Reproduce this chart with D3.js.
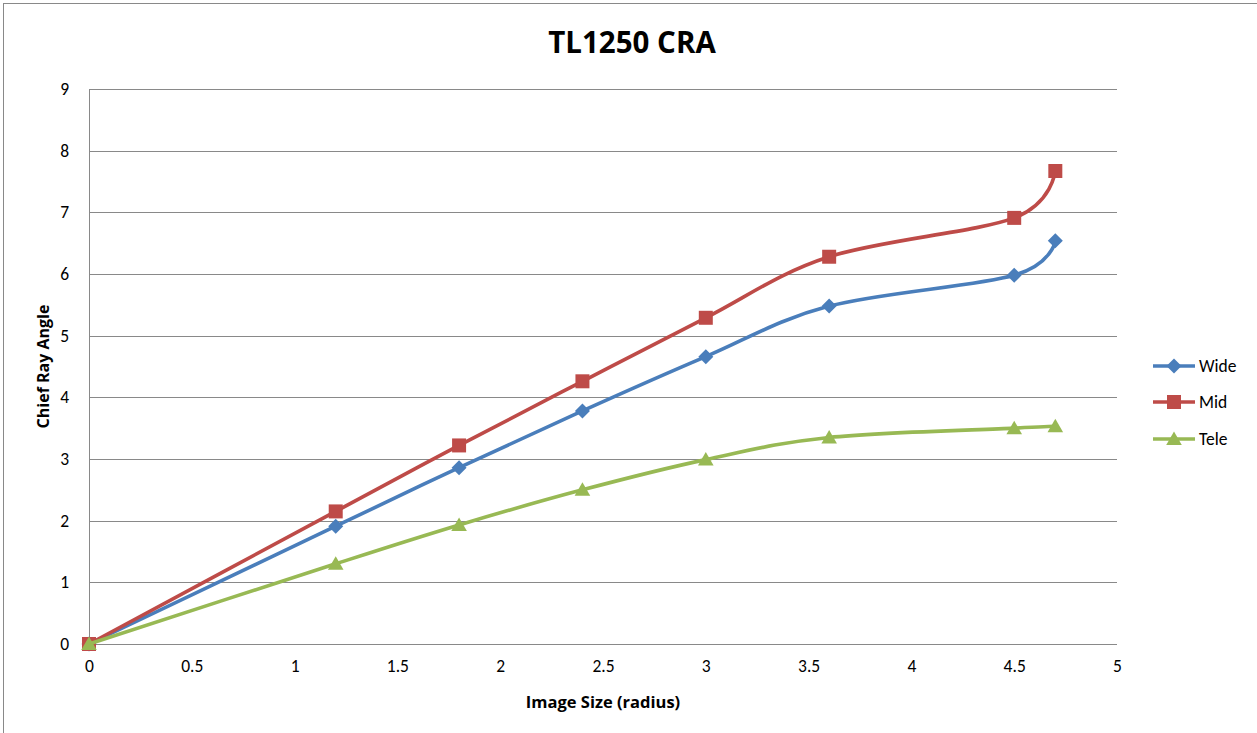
<!DOCTYPE html>
<html>
<head>
<meta charset="utf-8">
<script src="https://cdn.jsdelivr.net/npm/d3@7"></script>
<style>
  html, body { margin: 0; padding: 0; background: #fff; }
  svg { display: block; font-family: Carlito, Calibri, Lato, "Open Sans", sans-serif; }
  .heading { font-family: "Open Sans", Lato, sans-serif; font-weight: bold; }
</style>
</head>
<body>
<svg id="chart" width="1257" height="733"></svg>
<script>
// Image size (radius) sample points
const imageSize = [0, 1.2, 1.8, 2.4, 3.0, 3.6, 4.5, 4.7];

// Chief ray angle per zoom position
const wide = [0, 1.91, 2.86, 3.78, 4.66, 5.48, 5.98, 6.54];
const mid  = [0, 2.15, 3.22, 4.26, 5.29, 6.28, 6.91, 7.67];
const tele = [0, 1.30, 1.93, 2.50, 2.99, 3.35, 3.50, 3.53];

const seriesNames = ["Wide", "Mid", "Tele"];
const seriesValues = [wide, mid, tele];
const seriesColors = ["#4A7EBB", "#BE4B48", "#98B954"];
const seriesMarkers = ["diamond", "square", "triangle"];

const xTicks = [0, 0.5, 1, 1.5, 2, 2.5, 3, 3.5, 4, 4.5, 5];
const yTicks = [0, 1, 2, 3, 4, 5, 6, 7, 8, 9];

const W = 1257, H = 733;
const margin = { top: 89, right: 140, bottom: 89, left: 89 };
const svg = d3.select("#chart");

// chart area border (only top/left edges fall inside the view)
svg.append("rect")
  .attr("x", 3.5).attr("y", 3.5)
  .attr("width", W + 20).attr("height", H + 20)
  .attr("fill", "#fff")
  .attr("stroke", "#898989").attr("stroke-width", 1);

const x = d3.scaleLinear().domain([0, 5]).range([margin.left, W - margin.right]);
const y = d3.scaleLinear().domain([0, 9]).range([H - margin.bottom, margin.top]);

// horizontal gridlines
svg.append("g")
  .selectAll("line")
  .data(yTicks)
  .join("line")
  .attr("x1", x(0)).attr("x2", x(5))
  .attr("y1", d => Math.round(y(d)) + 0.5)
  .attr("y2", d => Math.round(y(d)) + 0.5)
  .attr("stroke", "#898989").attr("stroke-width", 1);

// vertical axis line
svg.append("line")
  .attr("x1", Math.round(x(0)) + 0.5).attr("x2", Math.round(x(0)) + 0.5)
  .attr("y1", y(9)).attr("y2", y(0))
  .attr("stroke", "#898989").attr("stroke-width", 1);

// y axis labels
const yAxis = d3.axisLeft(y).tickValues(yTicks).tickSize(0).tickPadding(20).tickFormat(d3.format("d"));
const gy = svg.append("g").attr("transform", `translate(${x(0)},0)`).call(yAxis);
gy.select(".domain").remove();
gy.selectAll("text").attr("font-size", 17.5).attr("fill", "#000")
  .attr("font-family", "Carlito, Calibri, Lato, sans-serif");

// x axis labels
const xAxis = d3.axisBottom(x).tickValues(xTicks).tickSize(0).tickPadding(16).tickFormat(d => String(d));
const gx = svg.append("g").attr("transform", `translate(0,${y(0)})`).call(xAxis);
gx.select(".domain").remove();
gx.selectAll("text").attr("font-size", 17.5).attr("fill", "#000")
  .attr("font-family", "Carlito, Calibri, Lato, sans-serif");

// title
svg.append("text")
  .attr("class", "heading")
  .attr("x", 632).attr("y", 53)
  .attr("text-anchor", "middle")
  .attr("font-size", 29.5)
  .text("TL1250 CRA");

// axis titles
svg.append("text")
  .attr("class", "heading")
  .attr("x", 603).attr("y", 708)
  .attr("text-anchor", "middle")
  .attr("font-size", 16.5)
  .text("Image Size (radius)");

svg.append("text")
  .attr("class", "heading")
  .attr("transform", `translate(49,${(y(0) + y(9)) / 2}) rotate(-90)`)
  .attr("text-anchor", "middle")
  .attr("font-size", 16)
  .text("Chief Ray Angle");

// marker shapes
function markerPath(kind) {
  if (kind === "diamond") return "M0,-7.5L7.5,0L0,7.5L-7.5,0Z";
  if (kind === "square") return "M-7,-7H7V7H-7Z";
  return "M0,-7.5L7.8,6L-7.8,6Z";
}

const line = d3.line()
  .x(d => x(d[0]))
  .y(d => y(d[1]))
  .curve(d3.curveCardinal.tension(0));

seriesNames.forEach((name, i) => {
  const pts = imageSize.map((v, j) => [v, seriesValues[i][j]]);
  const g = svg.append("g");
  g.append("path")
    .datum(pts)
    .attr("d", line)
    .attr("fill", "none")
    .attr("stroke", seriesColors[i])
    .attr("stroke-width", 3.6)
    .attr("stroke-linejoin", "round")
    .attr("stroke-linecap", "round");
  g.selectAll("path.mk")
    .data(pts)
    .join("path")
    .attr("class", "mk")
    .attr("transform", d => `translate(${x(d[0])},${y(d[1])})`)
    .attr("d", markerPath(seriesMarkers[i]))
    .attr("fill", seriesColors[i]);
});

// legend
const legendY = [366, 402, 439];
const lg = svg.append("g");
seriesNames.forEach((name, i) => {
  const row = lg.append("g").attr("transform", `translate(0,${legendY[i]})`);
  row.append("line")
    .attr("x1", 1153).attr("x2", 1195).attr("y1", 0).attr("y2", 0)
    .attr("stroke", seriesColors[i]).attr("stroke-width", 3.6);
  row.append("path")
    .attr("transform", "translate(1174,0)")
    .attr("d", markerPath(seriesMarkers[i]))
    .attr("fill", seriesColors[i]);
  row.append("text")
    .attr("x", 1199).attr("y", 6)
    .attr("font-size", 17.5)
    .text(name);
});
</script>
</body>
</html>
